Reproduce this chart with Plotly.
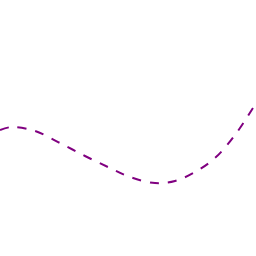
import plotly.graph_objects as go

x_vals = [0, 12, 35, 60, 85, 110, 130, 155, 175, 195, 215, 235, 256]
y_vals = [126, 129, 125, 113, 100, 88, 79, 73, 75, 84, 98, 121, 153]

fig = go.Figure(go.Scatter(
    x=x_vals, y=y_vals, mode="lines",
    line=dict(color="purple", width=2, dash="dash", shape="spline"),
))
fig.update_layout(
    width=256, height=256, margin=dict(l=0, r=0, t=0, b=0),
    paper_bgcolor="white", plot_bgcolor="white", showlegend=False,
    xaxis=dict(visible=False, range=[0, 256]),
    yaxis=dict(visible=False, range=[0, 256]),
)
fig.write_html("out.html")
